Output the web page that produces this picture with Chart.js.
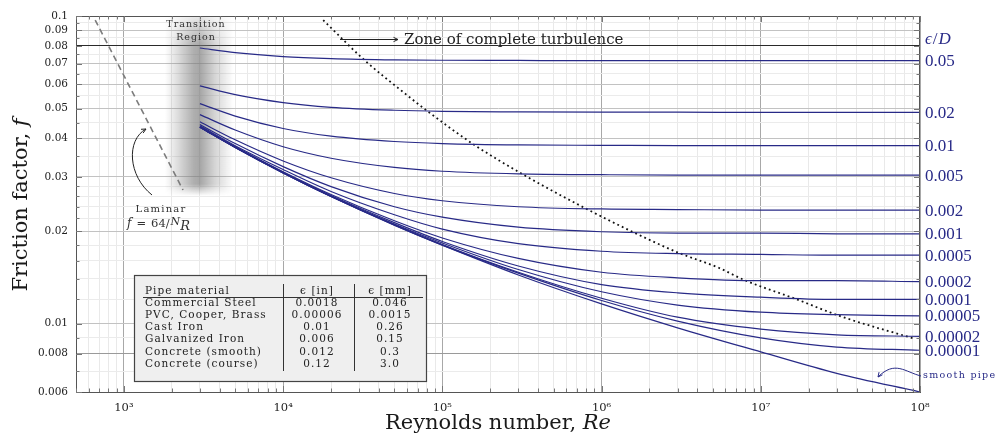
<!DOCTYPE html>
<html><head><meta charset="utf-8">
<script src="https://cdn.jsdelivr.net/npm/chart.js@4/dist/chart.umd.min.js"></script>
<style>html,body{margin:0;padding:0;background:#fff}canvas{display:block}</style>
</head><body>
<canvas id="c" width="1002" height="437"></canvas>
<script>
// ---- data ----
const reynolds = [3000, 5000, 1e4, 2e4, 5e4, 1e5, 3e5, 1e6, 3e6, 1e7, 3e7, 1e8];
const roughLabels = ['0.05','0.02','0.01','0.005','0.002','0.001','0.0005','0.0002','0.0001','0.00005','0.00002','0.00001'];
const f_0_05    = [0.0787,0.0760,0.0738,0.0727,0.0720,0.0718,0.0717,0.0716,0.0716,0.0716,0.0716,0.0716];
const f_0_02    = [0.0593,0.0555,0.0523,0.0505,0.0494,0.0490,0.0488,0.0487,0.0487,0.0486,0.0486,0.0486];
const f_0_01    = [0.0519,0.0473,0.0431,0.0407,0.0391,0.0385,0.0381,0.0380,0.0379,0.0379,0.0379,0.0379];
const f_0_005   = [0.0478,0.0426,0.0376,0.0345,0.0322,0.0313,0.0307,0.0305,0.0304,0.0304,0.0304,0.0304];
const f_0_002   = [0.0453,0.0396,0.0338,0.0298,0.0265,0.0251,0.0240,0.0236,0.0235,0.0234,0.0234,0.0234];
const f_0_001   = [0.0444,0.0385,0.0324,0.0279,0.0240,0.0222,0.0206,0.0199,0.0197,0.0197,0.0196,0.0196];
const f_0_0005  = [0.0440,0.0379,0.0317,0.0269,0.0226,0.0203,0.0182,0.0172,0.0169,0.0168,0.0167,0.0167];
const f_0_0002  = [0.0437,0.0376,0.0312,0.0263,0.0216,0.0190,0.0163,0.0147,0.0141,0.0138,0.0138,0.0137];
const f_0_0001  = [0.0436,0.0375,0.0310,0.0261,0.0213,0.0185,0.0154,0.0134,0.0126,0.0122,0.0120,0.0120];
const f_0_00005 = [0.0436,0.0375,0.0310,0.0260,0.0211,0.0183,0.0150,0.0127,0.0115,0.0109,0.0107,0.0106];
const f_0_00002 = [0.0435,0.0374,0.0309,0.0259,0.0210,0.0181,0.0147,0.0121,0.0105,0.0096,0.0092,0.0091];
const f_0_00001 = [0.0435,0.0374,0.0309,0.0259,0.0209,0.0180,0.0146,0.0119,0.0102,0.0090,0.0084,0.0082];
const f_smooth  = [0.0435,0.0374,0.0309,0.0259,0.0209,0.0180,0.0144,0.0116,0.0097,0.0081,0.0069,0.0060];
const roughSeries = [f_0_05,f_0_02,f_0_01,f_0_005,f_0_002,f_0_001,f_0_0005,f_0_0002,f_0_0001,f_0_00005,f_0_00002,f_0_00001];

const laminarRe = [660, 2350];
const laminarF  = [0.097, 0.0272];

const turbRe = [17850, 32300, 57700, 81700, 159000, 323000, 781000, 1610000, 3050000, 5440000, 7800000, 16400000, 32300000, 93000000];
const turbF  = [0.0970, 0.0720, 0.0562, 0.0488, 0.0381, 0.0305, 0.0238, 0.01975, 0.0170, 0.0152, 0.0139, 0.01206, 0.01054, 0.00893];

const transitionRe = [1800, 3000, 4850];   // band left, darkest, right
const transitionBottomF = 0.0268;

const materials = ['Commercial Steel','PVC, Cooper, Brass','Cast Iron','Galvanized Iron','Concrete (smooth)','Concrete (course)'];
const roughIn   = ['0.0018','0.00006','0.01','0.006','0.012','0.12'];
const roughMm   = ['0.046','0.0015','0.26','0.15','0.3','3.0'];

const xMajorTicks = [1e3,1e4,1e5,1e6,1e7,1e8];
const xTickLabels = ['10\u00B3','10\u2074','10\u2075','10\u2076','10\u2077','10\u2078'];
const yMajorTicks = [0.006,0.008,0.01,0.02,0.03,0.04,0.05,0.06,0.07,0.08,0.09,0.1];
const yTickLabels = ['0.006','0.008','0.01','0.02','0.03','0.04','0.05','0.06','0.07','0.08','0.09','0.1'];
const yMinorTicks = [0.007,0.009,0.012,0.014,0.016,0.018,0.022,0.024,0.026,0.028,0.035,0.045,0.055,0.065,0.075,0.085,0.095];

// ---- build ----
const xMinorTicks = [];
for (let e = 2; e <= 7; e++) for (let m = 2; m <= 9; m++) { const v = m * Math.pow(10, e); if (v >= 500) xMinorTicks.push(v); }
const xAllTicks = xMinorTicks.concat(xMajorTicks).sort((a,b)=>a-b);
const yAllTicks = yMinorTicks.concat(yMajorTicks).sort((a,b)=>a-b);

const navy = 'rgb(40,42,135)';
const pts = (xs, ys) => xs.map((v,i)=>({x:v, y:ys[i]}));
const datasets = roughSeries.map((arr,k)=>({
  label: '\u03B5/D = ' + roughLabels[k], data: pts(reynolds, arr),
  borderColor: navy, borderWidth: 1.2, pointRadius: 0, fill: false, cubicInterpolationMode: 'monotone'
}));
datasets.push({label:'smooth pipe', data: pts(reynolds, f_smooth), borderColor: navy, borderWidth: 1.2, pointRadius: 0, fill:false, cubicInterpolationMode:'monotone'});
datasets.push({label:'laminar', data: pts(laminarRe, laminarF), borderColor:'#7c7c7c', borderWidth:1.6, borderDash:[6,4], pointRadius:0, fill:false});
datasets.push({label:'complete turbulence', data: pts(turbRe, turbF), borderColor:'#111', borderWidth:1.8, borderDash:[1.8,3.2], pointRadius:0, fill:false, cubicInterpolationMode:'monotone'});

function arrowHead(ctx, x, y, ang, len) {
  ctx.beginPath();
  ctx.moveTo(x - len*Math.cos(ang - 0.45), y - len*Math.sin(ang - 0.45));
  ctx.lineTo(x, y);
  ctx.lineTo(x - len*Math.cos(ang + 0.45), y - len*Math.sin(ang + 0.45));
  ctx.stroke();
}

const decor = {
  id: 'decor',
  beforeDatasetsDraw(chart) {
    const {ctx, chartArea: a, scales: {x, y}} = chart;
    const x0 = x.getPixelForValue(transitionRe[0]), xp = x.getPixelForValue(transitionRe[1]), x1 = x.getPixelForValue(transitionRe[2]);
    const yb = y.getPixelForValue(transitionBottomF);
    const w = Math.ceil(x1 - x0), h = Math.ceil(yb - a.top + 4);
    const off = document.createElement('canvas'); off.width = w; off.height = h;
    const o = off.getContext('2d');
    const g = o.createLinearGradient(0,0,w,0);
    const pk = (xp-x0)/(x1-x0);
    g.addColorStop(0,'rgba(120,120,120,0)');
    g.addColorStop(pk*0.4,'rgba(120,120,120,0.28)');
    g.addColorStop(pk*0.8,'rgba(120,120,120,0.58)');
    g.addColorStop(pk,'rgba(120,120,120,0.66)');
    g.addColorStop(pk + (1-pk)*0.45,'rgba(120,120,120,0.3)');
    g.addColorStop(1,'rgba(120,120,120,0)');
    o.fillStyle = g; o.fillRect(0,0,w,h);
    o.globalCompositeOperation = 'destination-in';
    const gv = o.createLinearGradient(0,0,0,h);
    gv.addColorStop(0,'rgba(0,0,0,0.25)');
    gv.addColorStop(30/h,'rgba(0,0,0,1)');
    gv.addColorStop((h-12)/h,'rgba(0,0,0,1)');
    gv.addColorStop(1,'rgba(0,0,0,0)');
    o.fillStyle = gv; o.fillRect(0,0,w,h);
    ctx.drawImage(off, x0, a.top);
  },
  afterDatasetsDraw(chart) {
    const {ctx, chartArea: a, scales: {x, y}} = chart;
    ctx.save();
    // frame
    ctx.strokeStyle = '#555'; ctx.lineWidth = 1;
    ctx.strokeRect(a.left + 0.5, a.top + 0.5, a.right - a.left - 1, a.bottom - a.top);
    // inner tick marks
    ctx.strokeStyle = '#777';
    ctx.beginPath();
    xAllTicks.forEach(v => {
      const px = Math.round(x.getPixelForValue(v)) + 0.5; const L = xMajorTicks.includes(v) ? 6 : 3.5;
      ctx.moveTo(px, a.bottom); ctx.lineTo(px, a.bottom - L);
      ctx.moveTo(px, a.top); ctx.lineTo(px, a.top + L);
    });
    yAllTicks.forEach(v => {
      const py = Math.round(y.getPixelForValue(v)) + 0.5; const L = yMajorTicks.includes(v) ? 6 : 3.5;
      ctx.moveTo(a.left, py); ctx.lineTo(a.left + L, py);
      ctx.moveTo(a.right, py); ctx.lineTo(a.right - L, py);
    });
    ctx.stroke();

    // right-hand roughness labels
    ctx.fillStyle = navy; ctx.textBaseline = 'middle'; ctx.textAlign = 'left';
    ctx.font = '17px "Liberation Serif"';
    roughSeries.forEach((arr,k) => {
      const py = y.getPixelForValue(arr[arr.length-1]);
      ctx.fillText(roughLabels[k], a.right + 5, py + 1);
    });
    ctx.font = 'italic 17px "Liberation Serif"';
    let tx = a.right + 5;
    ctx.fillText('\u03F5', tx, 40); tx += ctx.measureText('\u03F5').width + 1;
    ctx.font = '17px "Liberation Serif"'; ctx.fillText('/', tx, 40); tx += ctx.measureText('/').width + 1;
    ctx.font = 'italic 17px "Liberation Serif"'; ctx.fillText('D', tx, 40);

    // smooth pipe label + arrow
    ctx.font = '9.5px "DejaVu Serif"'; ctx.letterSpacing = '1.3px';
    ctx.fillText('smooth pipe', a.right + 3, 376);
    ctx.letterSpacing = '0px';
    ctx.strokeStyle = navy; ctx.lineWidth = 1;
    ctx.beginPath(); ctx.moveTo(a.right + 1, 376);
    ctx.bezierCurveTo(905, 372, 895, 360, 878, 377); ctx.stroke();
    arrowHead(ctx, 878, 377, Math.atan2(377-368, 878-885), 5);

    // transition region text
    ctx.fillStyle = '#333'; ctx.textAlign = 'center';
    ctx.font = '9.5px "DejaVu Serif"'; ctx.letterSpacing = '1px';
    ctx.fillText('Transition', 196, 25);
    ctx.fillText('Region', 196, 38);

    // laminar text
    ctx.font = '10px "DejaVu Serif"'; ctx.letterSpacing = '1.2px';
    ctx.fillText('Laminar', 161, 209);
    ctx.letterSpacing = '0px';
    ctx.textAlign = 'left';
    let lx = 127; const ly = 224;
    ctx.font = 'italic 12px "DejaVu Serif"'; ctx.fillText('f', lx, ly); lx += ctx.measureText('f').width + 5;
    ctx.font = '11.5px "DejaVu Serif"'; ctx.fillText('=', lx, ly); lx += ctx.measureText('=').width + 5;
    ctx.fillText('64/', lx, ly); lx += ctx.measureText('64/').width + 1;
    ctx.font = 'italic 11px "DejaVu Serif"'; ctx.fillText('N', lx, ly - 2); lx += ctx.measureText('N').width;
    ctx.font = 'italic 13px "DejaVu Serif"'; ctx.fillText('R', lx, ly + 3);
    // laminar arrow
    ctx.strokeStyle = '#222'; ctx.lineWidth = 1;
    ctx.beginPath(); ctx.moveTo(152, 195);
    ctx.bezierCurveTo(128, 176, 126, 140, 146, 129); ctx.stroke();
    arrowHead(ctx, 146, 129, Math.atan2(129-134, 146-137), 5);

    // zone of complete turbulence
    ctx.beginPath(); ctx.moveTo(340, 39.5); ctx.lineTo(398, 39.5); ctx.stroke();
    arrowHead(ctx, 398, 39.5, 0, 5);
    ctx.fillStyle = '#222'; ctx.font = '15px "DejaVu Serif"'; ctx.textBaseline = 'middle';
    ctx.fillText('Zone of complete turbulence', 404, 40);

    // material table
    const bx = 134.5, by = 275.5, bw = 292, bh = 106;
    ctx.fillStyle = '#efefef'; ctx.fillRect(bx, by, bw, bh);
    ctx.strokeStyle = '#444'; ctx.lineWidth = 1.2; ctx.strokeRect(bx, by, bw, bh);
    ctx.lineWidth = 1; ctx.strokeStyle = '#333';
    ctx.beginPath();
    ctx.moveTo(143, 297.5); ctx.lineTo(423, 297.5);
    ctx.moveTo(283.5, 284); ctx.lineTo(283.5, 371);
    ctx.moveTo(354.5, 284); ctx.lineTo(354.5, 371);
    ctx.stroke();
    ctx.fillStyle = '#222'; ctx.font = '10.5px "DejaVu Serif"'; ctx.letterSpacing = '1.05px';
    ctx.textAlign = 'left'; ctx.fillText('Pipe material', 145, 291);
    ctx.textAlign = 'center';
    ctx.fillText('\u03F5 [in]', 317, 291); ctx.fillText('\u03F5 [mm]', 390, 291);
    materials.forEach((m,i) => {
      const ry = 303 + i*12.2;
      ctx.textAlign = 'left'; ctx.fillText(m, 145, ry);
      ctx.textAlign = 'center'; ctx.fillText(roughIn[i], 317, ry); ctx.fillText(roughMm[i], 390, ry);
    });
    ctx.letterSpacing = '0px';

    // axis titles
    ctx.fillStyle = '#1a1a1a'; ctx.textAlign = 'left'; ctx.textBaseline = 'middle';
    const t1 = 'Reynolds number, ', t2 = 'Re';
    ctx.font = '21px "DejaVu Serif"'; const w1 = ctx.measureText(t1).width;
    ctx.font = 'italic 21px "DejaVu Serif"'; const w2 = ctx.measureText(t2).width;
    let sx = (a.left + a.right)/2 - (w1 + w2)/2;
    ctx.font = '21px "DejaVu Serif"'; ctx.fillText(t1, sx, 424);
    ctx.font = 'italic 21px "DejaVu Serif"'; ctx.fillText(t2, sx + w1, 424);

    ctx.translate(22, (a.top + a.bottom)/2 + 1); ctx.rotate(-Math.PI/2);
    const u1 = 'Friction factor, ', u2 = 'f';
    ctx.font = '21px "DejaVu Serif"'; const v1 = ctx.measureText(u1).width;
    ctx.font = 'italic 21px "DejaVu Serif"'; const v2 = ctx.measureText(u2).width;
    sx = -(v1 + v2)/2;
    ctx.font = '21px "DejaVu Serif"'; ctx.fillText(u1, sx, 0);
    ctx.font = 'italic 21px "DejaVu Serif"'; ctx.fillText(u2, sx + v1, 0);
    ctx.restore();
  }
};

function yGridColor(v) {
  if (v === 0.08) return '#2a2a2a';
  if (v === 0.008) return '#9a9a9a';
  return yMajorTicks.includes(v) ? '#c2c2c2' : '#ebebeb';
}

new Chart(document.getElementById('c'), {
  type: 'line',
  data: { datasets },
  plugins: [decor],
  options: {
    responsive: false, animation: false, devicePixelRatio: 1,
    layout: { padding: { top: 16, right: 82, left: 0, bottom: 0 } },
    plugins: { legend: { display: false }, tooltip: { enabled: false } },
    elements: { line: { borderCapStyle: 'butt' } },
    scales: {
      x: {
        type: 'logarithmic', min: 500, max: 1e8,
        afterBuildTicks: ax => { ax.ticks = xAllTicks.map(v => ({ value: v })); },
        afterFit: ax => { ax.height = 45; },
        ticks: {
          autoSkip: false, maxRotation: 0, minRotation: 0, padding: 9, color: '#222',
          font: { family: 'DejaVu Serif', size: 11.5 },
          callback: v => { const i = xMajorTicks.indexOf(v); return i >= 0 ? xTickLabels[i] : ''; }
        },
        grid: { drawTicks: false, color: c => (c.tick && xMajorTicks.includes(c.tick.value)) ? '#a8a8a8' : '#e9e9e9', lineWidth: 1 },
        border: { display: true, color: '#555', width: 1 }
      },
      y: {
        type: 'logarithmic', min: 0.006, max: 0.1,
        afterBuildTicks: ax => { ax.ticks = yAllTicks.map(v => ({ value: v })); },
        afterFit: ax => { ax.width = 76; },
        ticks: {
          autoSkip: false, padding: 8, color: '#222',
          font: { family: 'DejaVu Serif', size: 10.5 },
          callback: v => { const i = yMajorTicks.indexOf(v); return i >= 0 ? yTickLabels[i] : ''; }
        },
        grid: { drawTicks: false, color: c => c.tick ? yGridColor(c.tick.value) : '#ebebeb', lineWidth: 1 },
        border: { display: true, color: '#555', width: 1 }
      }
    }
  }
});
</script>
</body></html>
